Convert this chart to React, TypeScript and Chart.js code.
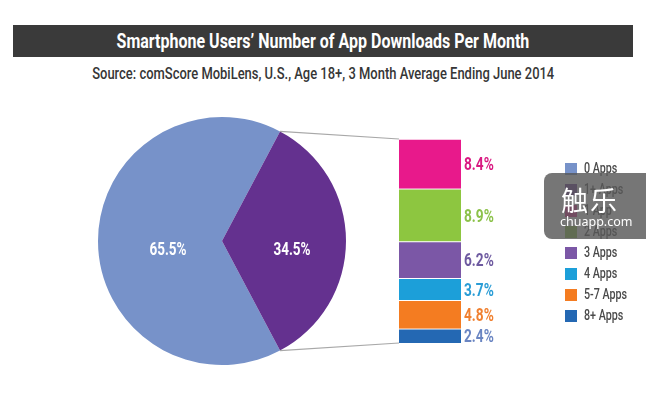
import React, { useEffect, useRef } from "react";
import { Chart, registerables } from "chart.js";

Chart.register(...registerables);

const TITLE = "Smartphone Users’ Number of App Downloads Per Month";
const SUBTITLE = "Source: comScore MobiLens, U.S., Age 18+, 3 Month Average Ending June 2014";

const pieLabels = ["0 Apps", "1+ Apps"];
const pieValues = [65.5, 34.5];
const pieColors = ["#7792c9", "#64318f"];

const barLabels = ["1 App", "2 Apps", "3 Apps", "4 Apps", "5-7 Apps", "8+ Apps"];
const barValues = [8.4, 8.9, 6.2, 3.7, 4.8, 2.4];
const barColors = ["#e8198b", "#8dc640", "#7b57a6", "#1c9fd9", "#f47c21", "#2468b3"];
const barTextColors = ["#d91a82", "#8cc24a", "#6e5aa0", "#2a9dd6", "#f08030", "#6a85c2"];

const FONT = "Roboto, 'Liberation Sans', sans-serif";

function drawScaledText(ctx: CanvasRenderingContext2D, text: string, x: number, y: number, sx: number) {
  ctx.save();
  ctx.translate(x, y);
  ctx.scale(sx, 1);
  ctx.fillText(text, 0, 0);
  ctx.restore();
}

export default function App() {
  const pieRef = useRef<HTMLCanvasElement | null>(null);
  const barRef = useRef<HTMLCanvasElement | null>(null);

  useEffect(() => {
    if (!pieRef.current || !barRef.current) return;
    const pieTotal = pieValues.reduce((a, b) => a + b, 0);
    const rotation = 90 + (pieValues[1] / pieTotal) * 180;

    const pieLabelPlugin = {
      id: "pieLabelPlugin",
      afterDatasetsDraw(chart: any) {
        const ctx = chart.ctx as CanvasRenderingContext2D;
        const meta = chart.getDatasetMeta(0);
        const radii = [54, 70];
        meta.data.forEach((arc: any, i: number) => {
          const p = arc.getProps(["x", "y", "startAngle", "endAngle"], true);
          const mid = (p.startAngle + p.endAngle) / 2;
          const x = p.x + radii[i] * Math.cos(mid);
          const y = p.y + radii[i] * Math.sin(mid) + 9;
          ctx.save();
          ctx.fillStyle = "#ffffff";
          ctx.font = `bold 18px ${FONT}`;
          ctx.textAlign = "center";
          ctx.textBaseline = "middle";
          drawScaledText(ctx, `${pieValues[i].toFixed(1)}%`, x, y, 0.75);
          ctx.restore();
        });
      },
    };

    const pieChart = new Chart(pieRef.current, {
      type: "pie",
      data: {
        labels: pieLabels,
        datasets: [
          {
            data: pieValues,
            backgroundColor: pieColors,
            borderWidth: 0,
          },
        ],
      },
      options: {
        responsive: false,
        animation: false,
        rotation,
        layout: { padding: { left: 98, right: 300, top: 117, bottom: 47 } },
        plugins: { legend: { display: false }, tooltip: { enabled: false } },
      },
      plugins: [pieLabelPlugin],
    });

    const barTotal = barValues.reduce((a, b) => a + b, 0);

    const connectorPlugin = {
      id: "connectorPlugin",
      beforeDatasetsDraw(chart: any) {
        const ctx = chart.ctx as CanvasRenderingContext2D;
        const arc: any = pieChart.getDatasetMeta(0).data[1];
        const p = arc.getProps(["x", "y", "startAngle", "endAngle", "outerRadius"], true);
        const left = chart.chartArea.left;
        const top = chart.scales.y.getPixelForValue(barTotal);
        const base = chart.scales.y.getPixelForValue(0);
        ctx.save();
        ctx.strokeStyle = "#a8a8a8";
        ctx.lineWidth = 1.2;
        ctx.beginPath();
        ctx.moveTo(p.x + p.outerRadius * Math.cos(p.startAngle), p.y + p.outerRadius * Math.sin(p.startAngle));
        ctx.lineTo(left, top);
        ctx.moveTo(p.x + p.outerRadius * Math.cos(p.endAngle), p.y + p.outerRadius * Math.sin(p.endAngle));
        ctx.lineTo(left, base);
        ctx.stroke();
        ctx.restore();
      },
      afterDatasetsDraw(chart: any) {
        const ctx = chart.ctx as CanvasRenderingContext2D;
        chart.data.datasets.forEach((ds: any, di: number) => {
          const idx = barLabels.indexOf(ds.label);
          const el: any = chart.getDatasetMeta(di).data[0];
          const p = el.getProps(["x", "y", "base", "width"], true);
          ctx.save();
          ctx.fillStyle = barTextColors[idx];
          ctx.font = `bold 18px ${FONT}`;
          ctx.textAlign = "left";
          ctx.textBaseline = "middle";
          drawScaledText(ctx, `${barValues[idx].toFixed(1)}%`, p.x + p.width / 2 + 3, (p.y + p.base) / 2 + 2, 0.76);
          ctx.restore();
        });
      },
    };

    const order = barLabels.map((_, i) => i).reverse();
    const barChart = new Chart(barRef.current, {
      type: "bar",
      data: {
        labels: [""],
        datasets: order.map((i) => ({
          label: barLabels[i],
          data: [barValues[i]],
          backgroundColor: barColors[i],
          borderColor: "#ffffff",
          borderWidth: { top: 1, bottom: 0, left: 0, right: 0 },
          barPercentage: 1,
          categoryPercentage: 1,
        })),
      },
      options: {
        responsive: false,
        animation: false,
        layout: { padding: { left: 399, right: 185, top: 139, bottom: 69 } },
        plugins: { legend: { display: false }, tooltip: { enabled: false } },
        scales: {
          x: { display: false, stacked: true },
          y: { display: false, stacked: true, min: 0, max: barTotal },
        },
      },
      plugins: [connectorPlugin],
    });

    return () => {
      barChart.destroy();
      pieChart.destroy();
    };
  }, []);

  const legendLabels = [...pieLabels, ...barLabels];
  const legendColors = [...pieColors, ...barColors];

  return (
    <div
      style={{
        position: "fixed",
        left: 0,
        top: 0,
        width: 646,
        height: 412,
        background: "#ffffff",
        overflow: "hidden",
        fontFamily: FONT,
      }}
    >
      <div
        style={{
          position: "absolute",
          left: 13,
          top: 25,
          width: 620,
          height: 32,
          background: "#3a3a3a",
          color: "#ffffff",
          textAlign: "center",
          lineHeight: "32px",
          fontWeight: 700,
          fontSize: 20,
          whiteSpace: "nowrap",
        }}
      >
        <span style={{ display: "inline-block", transform: "scaleX(0.8)" }}>{TITLE}</span>
      </div>
      <div
        style={{
          position: "absolute",
          left: 0,
          top: 62,
          width: 646,
          textAlign: "center",
          lineHeight: "24px",
          fontSize: 16,
          fontWeight: 500,
          color: "#363636",
          whiteSpace: "nowrap",
        }}
      >
        <span style={{ display: "inline-block", transform: "scaleX(0.81)" }}>{SUBTITLE}</span>
      </div>
      <canvas
        ref={pieRef}
        width={646}
        height={412}
        style={{ position: "absolute", left: 0, top: 0, width: 646, height: 412 }}
      />
      <canvas
        ref={barRef}
        width={646}
        height={412}
        style={{ position: "absolute", left: 0, top: 0, width: 646, height: 412 }}
      />
      <div style={{ position: "absolute", left: 565, top: 158 }}>
        {legendLabels.map((l, i) => (
          <div key={l} style={{ display: "flex", alignItems: "center", height: 21 }}>
            <div style={{ width: 12, height: 12, background: legendColors[i], marginRight: 7 }} />
            <span
              style={{
                display: "inline-block",
                fontSize: 14.5,
                fontWeight: 500,
                color: "#4a4a4a",
                transform: "scaleX(0.74)",
                transformOrigin: "left center",
                whiteSpace: "nowrap",
              }}
            >
              {l}
            </span>
          </div>
        ))}
      </div>
      <div
        style={{
          position: "absolute",
          left: 544,
          top: 173,
          width: 112,
          height: 66,
          borderRadius: 8,
          background: "rgba(88,88,88,0.82)",
          color: "#ffffff",
        }}
      >
        <div
          style={{
            position: "absolute",
            left: 17,
            top: 12,
            fontFamily: "'Noto Sans CJK SC', sans-serif",
            fontSize: 27,
            lineHeight: "30px",
            letterSpacing: 2,
          }}
        >
          触乐
        </div>
        <div
          style={{
            position: "absolute",
            left: 16,
            top: 41,
            fontFamily: "'Noto Sans', sans-serif",
            fontSize: 12.5,
            lineHeight: "16px",
          }}
        >
          chuapp.com
        </div>
      </div>
    </div>
  );
}
